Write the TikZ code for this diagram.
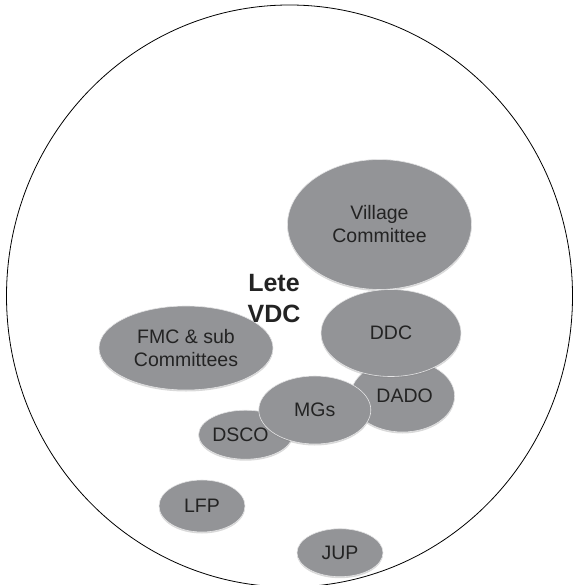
\documentclass[tikz,border=0pt]{standalone}
\usepackage{fontspec}
\setmainfont{Liberation Sans}
\usetikzlibrary{shapes.geometric,shadows}
\definecolor{blobgray}{RGB}{147,148,151}
\definecolor{inkgray}{RGB}{35,35,35}

\begin{document}
\begin{tikzpicture}[x=1pt,y=-1pt,
  blob/.style={ellipse,fill=blobgray,draw=white!75!blobgray,line width=0.6pt,
    inner sep=0pt,align=center,text=inkgray,font=\fontsize{19.5}{23}\selectfont,
    drop shadow={shadow xshift=0pt,shadow yshift=-1.5pt,opacity=0.3}}]
\useasboundingbox (0,0) rectangle (576,585);

% actors, back to front
\node[blob,minimum width=174,minimum height=84] (fmc) at (186,348) {FMC \& sub\\Committees};
\node[blob,minimum width=184,minimum height=130] (village) at (379.5,224.5) {Village\\Committee};
\node[blob,minimum width=104,minimum height=72] (dado) at (402.6,396) {\hspace{4pt}DADO};
\node[blob,minimum width=140,minimum height=87] (ddc) at (391,333) {DDC};
\node[blob,minimum width=93,minimum height=49] (dsco) at (245.5,434.7) {DSCO\hspace{10pt}};
\node[blob,minimum width=112,minimum height=68] (mgs) at (314.8,410) {MGs};
\node[blob,minimum width=86,minimum height=52] (lfp) at (202,506) {LFP};
\node[blob,minimum width=86,minimum height=48] (jup) at (340,552.7) {JUP};

% village boundary
\node[font=\bfseries\fontsize{25}{31}\selectfont,align=center,text=inkgray] (lete) at (274,298.5) {Lete\\VDC};
\draw[line width=0.8pt] (289.5,296) ellipse[x radius=283pt,y radius=291pt];
\end{tikzpicture}
\end{document}
